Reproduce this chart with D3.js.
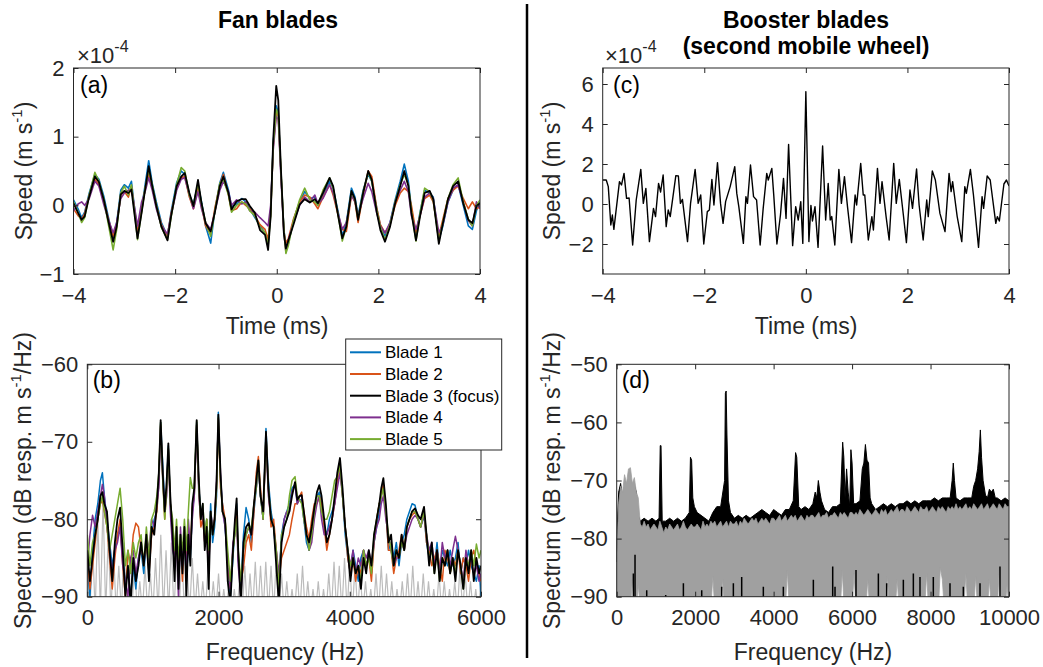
<!DOCTYPE html>
<html>

<head>
  <meta charset="utf-8" />
  <title>Fan and booster blades</title>
  <style>
    body {
      margin: 0;
      background: #fff;
    }

    svg {
      font-family: "Liberation Sans", Arial, Helvetica, sans-serif;
    }

    .axis .tick text {
      font-family: "Liberation Sans", Arial, Helvetica, sans-serif;
      font-size: 22px;
      fill: #262626;
    }

    .axis .tick line {
      stroke: #262626;
    }
  </style>
  <script src="https://cdnjs.cloudflare.com/ajax/libs/d3/7.8.5/d3.min.js"></script>
</head>

<body>
  <script>
    // ---- (a) fan blades, speed vs time (units of 1e-4 m/s) ----
    var fanTime = [-4.00, -3.91, -3.84, -3.78, -3.69, -3.58, -3.50, -3.40, -3.32, -3.22,
      -3.15, -3.07, -3.00, -2.92, -2.86, -2.74, -2.66, -2.59, -2.52, -2.45,
      -2.37, -2.27, -2.15, -2.08, -1.97, -1.88, -1.81, -1.72, -1.64, -1.55,
      -1.48, -1.40, -1.30, -1.22, -1.12, -1.05, -0.95, -0.89, -0.79, -0.69,
      -0.61, -0.53, -0.43, -0.33, -0.23, -0.17, -0.12, -0.07, -0.01, 0.03,
      0.08, 0.14, 0.18, 0.23, 0.33, 0.45, 0.55, 0.65, 0.75, 0.81,
      0.91, 1.04, 1.11, 1.21, 1.29, 1.37, 1.47, 1.54, 1.60, 1.70,
      1.80, 1.87, 1.97, 2.04, 2.13, 2.23, 2.33, 2.43, 2.51, 2.59,
      2.65, 2.74, 2.82, 2.91, 3.01, 3.08, 3.19, 3.27, 3.37, 3.47,
      3.57, 3.67, 3.77, 3.85, 3.93, 4.00];
    var fanBlade1 = [0.08, -0.05, -0.18, -0.10, 0.18, 0.45, 0.38, 0.12, -0.15, -0.48,
      -0.25, 0.22, 0.30, 0.25, 0.35, -0.42, -0.05, 0.30, 0.65, 0.32,
      0.05, -0.25, -0.45, -0.10, 0.33, 0.50, 0.45, 0.15, 0.02, 0.30,
      0.05, -0.30, -0.55, -0.08, 0.33, 0.48, 0.22, -0.02, 0.02, 0.10,
      0.05, -0.05, -0.18, -0.30, -0.40, -0.55, -0.10, 0.90, 1.45, 1.35,
      0.50, -0.35, -0.60, -0.55, -0.22, 0.05, 0.20, 0.10, 0.12, 0.00,
      0.15, 0.35, 0.25, -0.10, -0.45, -0.25, 0.25, 0.12, -0.15, 0.22,
      0.45, 0.35, -0.05, -0.30, -0.45, -0.25, 0.08, 0.35, 0.60, 0.35,
      -0.05, -0.45, -0.10, 0.22, 0.18, 0.12, -0.50, -0.30, 0.05, 0.22,
      0.30, 0.00, -0.30, -0.35, -0.08, 0.05];
    var fanBlade2 = [-0.05, -0.15, -0.20, -0.12, 0.15, 0.38, 0.30, 0.05, -0.18, -0.45,
      -0.28, 0.15, 0.20, 0.12, 0.28, -0.40, -0.08, 0.25, 0.45, 0.25,
      0.00, -0.28, -0.45, -0.12, 0.25, 0.40, 0.42, 0.12, -0.05, 0.25,
      -0.02, -0.30, -0.42, -0.05, 0.30, 0.45, 0.15, -0.08, -0.05, 0.05,
      0.00, -0.05, -0.15, -0.28, -0.35, -0.50, -0.12, 0.85, 1.35, 1.30,
      0.50, -0.38, -0.55, -0.48, -0.20, 0.05, 0.15, 0.12, 0.02, -0.05,
      0.12, 0.30, 0.15, -0.15, -0.35, -0.38, 0.15, 0.05, -0.25, 0.15,
      0.50, 0.42, -0.05, -0.28, -0.40, -0.28, 0.00, 0.18, 0.25, 0.20,
      0.00, -0.40, -0.15, 0.10, 0.15, 0.05, -0.45, -0.20, 0.10, 0.22,
      0.28, 0.10, -0.05, 0.05, -0.05, -0.02];
    var fanBlade3 = [0.03, -0.11, -0.21, -0.16, 0.13, 0.42, 0.34, 0.07, -0.21, -0.53,
      -0.31, 0.16, 0.21, 0.18, 0.23, -0.48, -0.11, 0.23, 0.57, 0.28,
      -0.01, -0.31, -0.51, -0.16, 0.28, 0.42, 0.47, 0.18, -0.01, 0.37,
      0.03, -0.26, -0.38, -0.11, 0.28, 0.42, 0.18, -0.06, 0.06, 0.09,
      0.09, -0.01, -0.11, -0.36, -0.43, -0.65, -0.16, 0.95, 1.74, 1.53,
      0.57, -0.41, -0.63, -0.51, -0.28, 0.01, 0.09, 0.04, 0.09, 0.03,
      0.18, 0.40, 0.28, -0.16, -0.48, -0.31, 0.21, 0.09, -0.21, 0.18,
      0.50, 0.37, -0.11, -0.36, -0.53, -0.31, 0.03, 0.28, 0.50, 0.28,
      -0.11, -0.51, -0.16, 0.18, 0.21, 0.09, -0.56, -0.26, 0.09, 0.28,
      0.35, 0.03, -0.21, -0.26, -0.01, 0.03];
    var fanBlade4 = [-0.08, 0.02, 0.05, 0.00, 0.10, 0.35, 0.28, 0.00, -0.20, -0.40,
      -0.25, 0.10, 0.18, 0.22, 0.25, -0.30, 0.05, 0.20, 0.40, 0.22,
      -0.05, -0.30, -0.42, -0.15, 0.22, 0.38, 0.40, 0.15, -0.05, 0.20,
      -0.05, -0.25, -0.35, -0.10, 0.22, 0.35, 0.20, 0.00, 0.08, 0.02,
      0.05, -0.08, -0.10, -0.18, -0.25, -0.30, 0.00, 0.80, 1.30, 1.25,
      0.45, -0.40, -0.68, -0.50, -0.25, 0.00, 0.12, 0.05, 0.15, 0.02,
      0.10, 0.30, 0.18, -0.12, -0.35, -0.25, 0.15, 0.05, -0.15, 0.10,
      0.32, 0.20, -0.12, -0.30, -0.40, -0.25, 0.05, 0.22, 0.35, 0.20,
      -0.15, -0.35, -0.15, 0.12, 0.18, 0.10, -0.40, -0.28, 0.05, 0.25,
      0.30, 0.05, -0.22, -0.30, 0.05, -0.05];
    var fanBlade5 = [0.05, -0.10, -0.25, -0.18, 0.15, 0.48, 0.35, 0.08, -0.25, -0.65,
      -0.35, 0.18, 0.28, 0.15, 0.30, -0.50, -0.10, 0.25, 0.52, 0.30,
      0.00, -0.32, -0.50, -0.18, 0.30, 0.55, 0.50, 0.15, 0.00, 0.32,
      0.02, -0.25, -0.45, -0.10, 0.32, 0.38, 0.15, -0.10, 0.00, 0.05,
      0.02, -0.08, -0.15, -0.32, -0.40, -0.58, -0.15, 0.88, 1.40, 1.32,
      0.55, -0.35, -0.70, -0.58, -0.22, 0.08, 0.25, 0.08, 0.05, 0.00,
      0.22, 0.40, 0.25, -0.15, -0.52, -0.30, 0.20, 0.08, -0.20, 0.20,
      0.48, 0.35, -0.08, -0.32, -0.50, -0.28, 0.05, 0.30, 0.45, 0.30,
      -0.08, -0.52, -0.12, 0.25, 0.20, 0.08, -0.52, -0.25, 0.10, 0.30,
      0.40, 0.05, -0.20, -0.30, 0.00, 0.08];

    // ---- (b) fan blades spectrum (dB) ----
    var fanFreq = [0, 40, 80, 120, 160, 200, 230, 260, 300, 340,
      380, 420, 460, 500, 540, 580, 620, 660, 700, 740,
      780, 820, 860, 900, 940, 980, 1020, 1060, 1090, 1118,
      1150, 1180, 1210, 1235, 1265, 1300, 1330, 1360, 1390, 1420,
      1450, 1480, 1510, 1540, 1570, 1600, 1630, 1667, 1700, 1730,
      1760, 1790, 1820, 1850, 1880, 1910, 1940, 1970, 1997, 2030,
      2060, 2100, 2140, 2180, 2220, 2250, 2276, 2300, 2340, 2380,
      2420, 2460, 2500, 2540, 2575, 2607, 2640, 2680, 2723, 2760,
      2800, 2840, 2880, 2920, 2960, 3000, 3040, 3080, 3120, 3166,
      3200, 3235, 3267, 3300, 3340, 3380, 3420, 3460, 3500, 3536,
      3570, 3610, 3650, 3690, 3730, 3770, 3810, 3851, 3890, 3930,
      3970, 4010, 4050, 4090, 4130, 4170, 4210, 4250, 4290, 4330,
      4370, 4410, 4450, 4480, 4512, 4550, 4590, 4630, 4670, 4710,
      4750, 4790, 4830, 4870, 4910, 4950, 4995, 5040, 5080, 5132,
      5170, 5210, 5250, 5290, 5330, 5370, 5410, 5450, 5490, 5530,
      5570, 5610, 5650, 5690, 5730, 5770, 5810, 5850, 5890, 5930,
      5970, 6000];
    var specBlade1 = [-86, -90, -84, -80, -78, -75, -74, -77, -80, -83,
      -86, -84, -82, -81, -85, -88, -87, -90, -86, -89,
      -85, -84, -87, -83, -86, -82, -80, -79, -75, -67.5,
      -73, -78, -76, -70.5, -78, -83, -86, -82, -88, -84,
      -85, -82, -88, -83, -85, -79, -77, -67.5, -76, -79,
      -79, -82, -80, -85, -78, -83, -81, -77, -66.2, -75,
      -78, -81, -86, -90, -85, -81, -78, -85, -89, -82,
      -78.5, -80, -83, -79, -76, -73, -77, -80, -68.3, -75,
      -79, -81, -85, -88, -82, -80, -79, -78, -76, -75.5,
      -78, -77.5, -77.5, -80, -83, -84, -82, -79, -77, -76.5,
      -78, -81, -82, -80, -79, -78, -75, -73, -77, -82,
      -85, -87, -84, -86, -88, -85, -84, -86, -85, -87,
      -83, -81, -79, -77, -75.5, -79, -84, -83, -85, -83,
      -86, -83, -82, -80, -79, -78, -78.2, -80, -81, -79.5,
      -83, -85, -84, -86, -83, -87, -84, -85, -86, -84,
      -86, -85, -83, -87, -85, -86, -84, -86, -87, -88,
      -86, -90];
    var specBlade2 = [-85, -89, -86, -83, -80, -78, -77.5, -79, -81, -85,
      -89, -85, -82, -80, -86, -90, -84, -86, -82, -80.5,
      -81, -84, -85, -83, -87, -82, -81, -79, -75, -67.8,
      -74.5, -80, -76, -71, -78, -81, -86, -83, -87, -83,
      -88, -82, -86, -81, -84, -78.5, -77, -67.8, -76, -81,
      -80, -83, -80, -86, -80, -81, -80, -76, -67, -76,
      -78, -80, -86, -89, -84, -81, -79, -85, -88, -86.3,
      -83, -82, -84, -79, -74, -71.9, -76, -80, -69, -76,
      -81, -80, -84, -88, -85, -84, -83, -82, -80, -78,
      -78, -77, -76.5, -79, -81, -82.5, -80, -78, -78, -77,
      -78, -81, -84, -82, -80, -78, -75, -73, -77, -81,
      -85, -87, -85, -88, -86, -87, -84, -86, -85, -88,
      -83, -80, -78, -77, -75.5, -79, -84, -84, -87, -85,
      -84, -82, -84, -81, -80, -79.5, -79, -80, -81, -79,
      -83, -84, -86, -85, -84, -86, -88, -84, -85, -87,
      -85, -86, -84, -87, -85, -86, -88, -85, -84, -86,
      -87, -88];
    var specBlade3 = [-84, -88, -85, -82, -80, -77, -76.5, -78, -79, -84,
      -88, -83, -80, -78.5, -84, -90, -86, -91, -85, -88,
      -86, -83, -86, -82, -88, -81, -82, -78, -74, -67.2,
      -74, -79, -75, -70.2, -77, -82, -88, -81, -89, -82,
      -87, -81, -90, -82, -86, -78, -76, -67.2, -75, -80,
      -78, -84, -81, -89, -79, -82, -80, -75, -66.5, -74,
      -79, -80, -88, -91, -84, -80, -77.3, -84, -91, -83,
      -81, -80.5, -82, -78, -75, -72.4, -77, -79, -68.7, -76,
      -80, -81, -86, -91, -83, -81, -80, -79, -77, -75.2,
      -77.5, -77, -76.9, -79, -82, -83, -81, -78.5, -76.5, -75.6,
      -77, -80, -83, -82, -80, -77, -74, -72.1, -76, -81,
      -84, -88, -85, -87, -86, -89, -85, -87, -84, -86,
      -82, -80, -78, -76, -74.7, -78, -83, -82, -86, -84,
      -85, -82, -84, -81, -80, -79, -78.6, -79.5, -80, -78.4,
      -82, -86, -83, -87, -84, -88, -85, -86, -84, -87,
      -85, -88, -84, -86, -89, -85, -87, -84, -88, -85,
      -87, -86];
    var specBlade4 = [-86, -82, -79.5, -81, -79, -77, -75.5, -77, -81, -84,
      -87, -84, -83, -81, -86, -88, -90, -85, -84, -87,
      -85, -83, -86, -82, -84, -80, -81, -78, -76, -68,
      -75, -79, -77, -71, -79, -84, -85, -82, -90, -81,
      -86, -82, -87, -80, -84, -80, -77, -67.8, -77, -80,
      -79, -83, -82, -87, -79, -81, -80, -75, -67, -74,
      -79, -81, -85, -89, -83, -82, -80, -86, -90, -84,
      -82, -81, -82, -78, -76, -73, -77, -80, -69.5, -77,
      -80, -81, -84, -87, -83, -80, -79, -79, -76.5, -75.5,
      -78, -77, -77, -80, -82, -84, -83, -80, -78, -77,
      -80, -82, -82, -81, -80, -78, -76, -74, -77, -81,
      -84, -86, -84, -87, -85, -86, -84, -85, -84, -86,
      -83, -81, -80, -78, -77, -80, -82, -84, -86, -85,
      -85, -83, -84, -82, -81, -80, -79.5, -80, -81, -79.5,
      -82, -84, -83, -86, -84, -87, -83, -85, -84, -86,
      -84, -82.2, -84, -86, -88, -84, -86, -85, -87, -86,
      -88, -87];
    var specBlade5 = [-82, -86, -83, -82, -80, -78, -77, -79, -81, -84,
      -82, -80, -78, -76, -80, -86, -84, -87, -83, -85,
      -83, -82, -86, -81, -85, -80, -79, -77, -74, -67.5,
      -75, -80, -76, -70.8, -78, -80, -84, -80, -85, -82,
      -84, -80, -84, -79, -74.6, -76, -76, -67.3, -76, -80,
      -78, -82, -80, -84, -79, -82, -80, -76, -66.8, -75,
      -79, -80, -84, -88, -84, -82, -80, -84, -88, -84,
      -82, -81, -81, -78, -76, -72.5, -77, -80, -69, -76,
      -80, -81, -84, -89, -82, -81, -80, -77, -75, -74.5,
      -77, -77.5, -78, -80, -82, -84, -82, -79, -77, -77,
      -79, -80, -80, -79, -77, -75, -74.5, -73, -77, -81,
      -84, -86, -85, -87, -86, -88, -84, -86, -85, -87,
      -82, -80, -78, -77, -76, -79, -82, -84, -86, -84,
      -85, -83, -84, -81, -80, -79, -79, -80, -81, -79,
      -82, -85, -84, -87, -84, -88, -85, -86, -84, -87,
      -85, -87, -84, -86, -89, -85, -86, -84, -86, -83.2,
      -85, -84];
    // grey reference spectrum in (b): local maxima every 80 Hz, dropping to the floor between them
    var fanGrayStep = 80;
    var fanGrayPeaks = [-86, -83, -80, -77.5, -82, -84, -86, -83, -87, -85,
      -88, -86, -87, -85, -82, -84, -83, -85, -84, -86,
      -85, -87, -88, -86, -88, -87, -89, -88, -89, -88,
      -86, -87, -85.5, -86, -85.5, -86, -85, -87, -88, -89,
      -87, -86, -88, -89, -88, -89, -87, -85.5, -86, -85,
      -85.5, -86, -87, -88, -89, -87, -86, -87, -88, -89,
      -88, -87, -86, -88, -87, -88, -89, -87, -88, -89,
      -88, -86, -87, -88, -89, -88];

    // ---- (c) booster blades, speed vs time (units of 1e-4 m/s) ----
    var boosterTime = [-4.00, -3.93, -3.89, -3.84, -3.81, -3.78, -3.67, -3.63, -3.58, -3.53,
      -3.48, -3.41, -3.34, -3.25, -3.20, -3.15, -3.08, -3.00, -2.96, -2.90,
      -2.86, -2.81, -2.75, -2.71, -2.67, -2.56, -2.51, -2.47, -2.43, -2.33,
      -2.27, -2.18, -2.12, -2.07, -2.01, -1.94, -1.90, -1.85, -1.81, -1.74,
      -1.68, -1.63, -1.58, -1.49, -1.40, -1.36, -1.32, -1.23, -1.18, -1.15,
      -1.09, -1.03, -0.97, -0.90, -0.84, -0.77, -0.74, -0.67, -0.63, -0.57,
      -0.50, -0.44, -0.39, -0.34, -0.26, -0.20, -0.15, -0.10, -0.06, 0.00,
      0.06, 0.10, 0.13, 0.18, 0.24, 0.33, 0.39, 0.44, 0.48, 0.51,
      0.57, 0.65, 0.70, 0.76, 0.82, 0.90, 0.97, 1.00, 1.08, 1.13,
      1.16, 1.23, 1.30, 1.33, 1.41, 1.46, 1.50, 1.58, 1.64, 1.73,
      1.78, 1.84, 1.92, 1.98, 2.05, 2.10, 2.18, 2.23, 2.31, 2.38,
      2.41, 2.49, 2.55, 2.64, 2.74, 2.82, 2.86, 2.89, 2.98, 3.07,
      3.13, 3.16, 3.24, 3.30, 3.40, 3.47, 3.50, 3.57, 3.63, 3.74,
      3.77, 3.81, 3.90, 3.95, 4.00];
    var boosterSpeed = [1.20, 1.20, 0.87, -1.05, -0.55, -1.27, 1.12, 0.95, 1.53, 0.28,
      0.30, -2.05, 0.20, 1.73, 0.03, 0.78, -1.88, -0.22, -0.63, 1.03,
      0.60, 1.45, -1.13, -0.30, -0.63, 1.42, 1.40, 0.03, 0.23, -1.88,
      0.03, 1.73, 0.03, 0.45, -2.00, -0.38, -0.30, 1.23, -0.05, 2.07,
      0.03, -0.97, 0.12, 0.87, 1.87, 0.53, -0.13, -1.97, 0.37, 0.03,
      1.95, 0.37, 0.20, -2.05, -0.22, 1.53, 1.20, 1.78, 0.37, -2.00,
      -0.55, 1.28, -0.72, 2.98, -2.08, -0.13, -0.80, 0.12, -1.97, 5.62,
      -1.88, -0.07, -0.85, -0.13, -2.17, 2.90, -0.80, 1.03, -0.80, -0.63,
      -2.05, 1.73, 0.03, 1.37, -0.13, -1.93, 0.45, -0.05, 2.03, 0.45,
      0.45, -1.80, -0.63, -1.30, 1.78, 0.03, 1.12, -0.63, -1.80, 2.03,
      0.03, 1.23, -0.55, -1.93, 0.70, -0.22, 1.75, -0.05, -1.80, 0.20,
      -0.63, 1.65, 1.20, -0.47, -1.38, 1.53, 0.62, 1.12, -0.63, -1.88,
      0.87, 0.53, 1.73, 0.45, -2.17, 0.37, -0.22, 1.40, 1.20, -0.97,
      -0.63, -0.85, 1.00, 1.20, 0.90];

    // ---- (d) booster blades spectrum (dB) ----
    var boosterFreq = [0, 50, 100, 150, 200, 250, 300, 350, 400, 450,
      500, 550, 600, 700, 800, 900, 1000, 1080, 1110, 1130,
      1160, 1250, 1350, 1450, 1550, 1650, 1750, 1850, 1880, 1910,
      1940, 1980, 2050, 2150, 2250, 2350, 2450, 2550, 2650, 2750,
      2770, 2790, 2810, 2850, 2900, 3000, 3100, 3200, 3300, 3400,
      3500, 3600, 3700, 3800, 3900, 4000, 4100, 4200, 4300, 4400,
      4500, 4560, 4590, 4640, 4700, 4800, 4900, 5000, 5060, 5100,
      5140, 5180, 5220, 5300, 5400, 5500, 5600, 5700, 5760, 5790,
      5820, 5860, 5900, 5940, 5970, 6000, 6040, 6100, 6200, 6260,
      6300, 6340, 6380, 6420, 6460, 6500, 6600, 6700, 6800, 6900,
      7000, 7100, 7200, 7300, 7400, 7500, 7600, 7700, 7800, 7900,
      8000, 8100, 8200, 8300, 8400, 8500, 8550, 8580, 8610, 8650,
      8750, 8850, 8950, 9050, 9100, 9150, 9200, 9240, 9270, 9300,
      9340, 9400, 9450, 9500, 9550, 9600, 9650, 9700, 9800, 9900,
      10000];
    var boosterSpec = [-80.5, -72, -70.5, -73, -71, -71.5, -72.5, -73, -71, -70.8,
      -72, -76, -77, -76.5, -77, -76.5, -77, -76.5, -64, -64,
      -77, -77, -76.5, -77, -76.5, -77, -76.5, -75.5, -66, -66.5,
      -73, -74.5, -75.5, -76, -76.5, -77, -75.5, -74.5, -74.5, -70,
      -55, -54.6, -62, -73.5, -75.5, -76.5, -76, -76.5, -76, -76.5,
      -76, -75.5, -75, -75.5, -76, -75, -75.5, -76, -75, -75,
      -73.5, -65.2, -66, -74.5, -75, -74.5, -75, -74, -72, -73,
      -70, -72, -73.5, -75, -75.5, -74.5, -74.5, -74, -63.4, -66,
      -73, -68, -72, -74.5, -64.7, -67, -74, -74, -73.5, -68,
      -67, -63.8, -66.5, -67, -73, -74, -75, -74.5, -74, -74.5,
      -74, -74.5, -74, -74, -73.5, -74, -73.5, -74, -73.5, -73.5,
      -73.5, -73, -73.5, -73, -73, -73, -70, -67, -70, -73,
      -73.5, -73, -73, -73, -71, -70, -68, -65, -61.3, -66,
      -70, -72.5, -73, -71.5, -72, -71.5, -73, -73, -73.5, -73,
      -73.5];
    // black dips reaching the bottom of (d)
    var boosterDipFreq = [425, 467, 765, 1249, 1700, 2167, 2676, 2974, 3186, 3738,
      4248, 5013, 5506, 5565, 6100, 6670, 6882, 7307, 7562, 7731,
      8071, 8496, 8836, 9261, 9770];
    var boosterDipTop = [-86, -82.8, -88.9, -89.7, -87.7, -88.9, -88.3, -87.7, -86.6, -88.3,
      -88.3, -87.1, -84.8, -88.3, -85.4, -86, -87.7, -87.1, -86, -86.6,
      -86.6, -87.7, -88.3, -87.7, -84.8];
    // grey reference spectrum in (d): upper envelope every 50 Hz
    var boosterGrayStep = 50;
    var boosterGrayTop = [-84, -74, -71, -72, -69, -70.5, -68, -67.8, -70.5, -69.5,
      -72, -73, -77.5, -78, -77, -78, -77.5, -78.5, -78, -77.5,
      -78, -78.5, -77, -78, -79, -78, -78.5, -77.5, -78, -78.5,
      -78, -77.5, -78.5, -78, -77, -78, -78.5, -78, -77.5, -78,
      -78, -77.5, -78, -78.5, -77, -78, -77.5, -78, -77, -77.5,
      -77, -78, -77.5, -77, -78, -77.5, -77, -78, -77, -77.5,
      -77.5, -77, -78, -77, -77.5, -76.5, -77, -77.5, -77, -76.5,
      -77, -76.5, -77.5, -77, -76.5, -77, -76.5, -77, -77.5, -76.5,
      -76.5, -77, -76.5, -76, -77, -76.5, -76, -77, -76.5, -76,
      -76.5, -76, -77, -76.5, -76, -76.5, -77, -76, -76.5, -76,
      -76, -76.5, -76, -75.5, -76.5, -76, -76, -75.5, -76.5, -76,
      -76, -75.5, -76, -76.5, -75.5, -76, -75.5, -76, -76.5, -75.5,
      -75.5, -76, -75.5, -76, -75, -75.5, -76, -75.5, -75, -75.5,
      -76, -75.5, -75, -75.5, -76, -75, -75.5, -75, -76, -75.5,
      -75, -75.5, -75, -74.5, -75.5, -75, -75, -75.5, -74.5, -75,
      -75.5, -75, -74.5, -75, -75.5, -74.5, -75, -75, -74.5, -75.5,
      -75, -74.5, -75, -75.5, -74.5, -75, -74.5, -75, -75.5, -74.5,
      -75, -74.5, -75, -74, -75, -74.5, -75, -74.5, -74, -75,
      -74.5, -75, -74, -74.5, -75, -74.5, -74, -75, -74.5, -74,
      -75, -74.5, -74, -74.5, -75, -74, -74.5, -75, -74, -74.5,
      -74.5];
    // places where the grey trace does not reach the bottom (white gaps)
    var boosterGapFreq = [400, 550, 2450, 2700, 4350, 5750, 6050, 6400, 6900, 7150,
      7900, 8250, 8300, 8900, 9150, 9500, 9750, 9950];
    var boosterGapDb = [-87, -88, -86.5, -87, -85.5, -85.5, -86, -87, -86.5, -87,
      -86, -85, -87, -86, -86.5, -87, -85.5, -88];

    var bladeNames = ['Blade 1', 'Blade 2', 'Blade 3 (focus)', 'Blade 4', 'Blade 5'];
    var bladeColors = ['#0072BD', '#D95319', '#000000', '#7E2F8E', '#77AC30'];
    var floorDb = -92;

    var svg = d3.select('body').append('svg')
      .attr('width', 1043)
      .attr('height', 667);

    function setupPanel(id, box, xDomain, yDomain) {
      var x = d3.scaleLinear().domain(xDomain).range([box.x, box.x + box.w]);
      var y = d3.scaleLinear().domain(yDomain).range([box.y + box.h, box.y]);
      svg.append('clipPath').attr('id', 'clip-' + id)
        .append('rect')
        .attr('x', box.x).attr('y', box.y)
        .attr('width', box.w).attr('height', box.h);
      var plot = svg.append('g').attr('clip-path', 'url(#clip-' + id + ')');
      return { x: x, y: y, plot: plot, box: box };
    }

    function finishPanel(p, xTicks, yTicks) {
      var b = p.box;
      // negative tick labels with a real minus sign, like the original
      var fmt = d => (d < 0 ? '\u2212' + String(-d) : String(d));
      svg.append('g').attr('class', 'axis')
        .attr('transform', 'translate(0,' + (b.y + b.h) + ')')
        .call(d3.axisBottom(p.x).tickValues(xTicks).tickSizeInner(-5).tickSizeOuter(0).tickPadding(13).tickFormat(fmt));
      svg.append('g').attr('class', 'axis')
        .attr('transform', 'translate(0,' + b.y + ')')
        .call(d3.axisTop(p.x).tickValues(xTicks).tickSizeInner(-5).tickSizeOuter(0).tickFormat(''));
      svg.append('g').attr('class', 'axis')
        .attr('transform', 'translate(' + b.x + ',0)')
        .call(d3.axisLeft(p.y).tickValues(yTicks).tickSizeInner(-5).tickSizeOuter(0).tickPadding(9).tickFormat(fmt));
      svg.append('g').attr('class', 'axis')
        .attr('transform', 'translate(' + (b.x + b.w) + ',0)')
        .call(d3.axisRight(p.y).tickValues(yTicks).tickSizeInner(-5).tickSizeOuter(0).tickFormat(''));
      svg.selectAll('.axis .domain').remove();
      svg.append('rect')
        .attr('x', b.x).attr('y', b.y)
        .attr('width', b.w).attr('height', b.h)
        .attr('fill', 'none')
        .attr('stroke', '#262626')
        .attr('stroke-width', 1);
    }

    function drawLine(p, xs, ys, color, width) {
      var line = d3.line().x(i => p.x(xs[i])).y(i => p.y(ys[i]));
      p.plot.append('path')
        .attr('d', line(d3.range(xs.length)))
        .attr('fill', 'none')
        .attr('stroke', color)
        .attr('stroke-width', width)
        .attr('stroke-linejoin', 'round');
    }

    function text(x, y, str, size, opts) {
      opts = opts || {};
      return svg.append('text')
        .attr('x', x).attr('y', y)
        .attr('font-size', size)
        .attr('font-weight', opts.bold ? 'bold' : null)
        .attr('text-anchor', opts.anchor || 'start')
        .attr('fill', opts.color || '#000')
        .text(str);
    }

    // rotated label with a "-1" superscript
    function yLabel(cx, cy, before, after) {
      var t = svg.append('text')
        .attr('transform', 'translate(' + cx + ',' + cy + ') rotate(-90)')
        .attr('text-anchor', 'middle')
        .attr('font-size', 23)
        .attr('fill', '#262626');
      t.append('tspan').text(before);
      t.append('tspan').attr('font-size', 15).attr('dy', -10).text('-1');
      t.append('tspan').attr('dy', 10).text(after);
    }

    function exponent(x, y) {
      var t = svg.append('text').attr('x', x).attr('y', y).attr('font-size', 22).attr('fill', '#262626');
      t.append('tspan').text('\u00d710');
      t.append('tspan').attr('font-size', 16).attr('dy', -11).text('-4');
    }

    // ---- panel (a) ----
    var pa = setupPanel('a', { x: 73.5, y: 68, w: 406.5, h: 206 }, [-4, 4], [-1, 2]);
    [fanBlade1, fanBlade2, fanBlade4, fanBlade5].forEach(function (vals, k) {
      drawLine(pa, fanTime, vals, bladeColors[[0, 1, 3, 4][k]], 1.6);
    });
    drawLine(pa, fanTime, fanBlade3, '#000', 1.8);
    finishPanel(pa, [-4, -2, 0, 2, 4], [-1, 0, 1, 2]);

    // ---- panel (b) ----
    var pb = setupPanel('b', { x: 87.3, y: 364.3, w: 393.7, h: 232.4 }, [0, 6000], [-90, -60]);
    var grayB = [];
    fanGrayPeaks.forEach(function (v, i) {
      grayB.push([i * fanGrayStep, v]);
      grayB.push([i * fanGrayStep + fanGrayStep / 2, floorDb]);
    });
    pb.plot.append('path')
      .attr('d', d3.line().x(d => pb.x(d[0])).y(d => pb.y(d[1]))(grayB))
      .attr('fill', 'none').attr('stroke', '#bcbcbc').attr('stroke-width', 1.2);
    [specBlade1, specBlade2, specBlade4, specBlade5].forEach(function (vals, k) {
      drawLine(pb, fanFreq, vals, bladeColors[[0, 1, 3, 4][k]], 1.5);
    });
    drawLine(pb, fanFreq, specBlade3, '#000', 1.8);
    finishPanel(pb, [0, 2000, 4000, 6000], [-90, -80, -70, -60]);

    // ---- panel (c) ----
    var pc = setupPanel('c', { x: 602.7, y: 68, w: 406.3, h: 206 }, [-4, 4], [-3.5, 6.8]);
    drawLine(pc, boosterTime, boosterSpeed, '#000', 1.4);
    finishPanel(pc, [-4, -2, 0, 2, 4], [-2, 0, 2, 4, 6]);

    // ---- panel (d) ----
    var pd = setupPanel('d', { x: 616.7, y: 364.3, w: 392.3, h: 232.4 }, [0, 10000], [-90, -50]);
    pd.plot.append('path')
      .attr('d', d3.area()
        .x(i => pd.x(boosterFreq[i]))
        .y0(pd.y(-84))
        .y1(i => pd.y(boosterSpec[i]))(d3.range(boosterFreq.length)))
      .attr('fill', '#000').attr('stroke', '#000').attr('stroke-width', 1);
    var gapLookup = new Map(boosterGapFreq.map((f, i) => [f, boosterGapDb[i]]));
    var grayD = boosterGrayTop.map(function (v, i) {
      var f = i * boosterGrayStep;
      return { f: f, hi: v, lo: gapLookup.has(f) ? gapLookup.get(f) : floorDb };
    });
    pd.plot.append('path')
      .attr('d', d3.area().x(d => pd.x(d.f)).y0(d => pd.y(d.lo)).y1(d => pd.y(d.hi))(grayD))
      .attr('fill', '#a0a0a0').attr('stroke', '#a0a0a0').attr('stroke-width', 0.8);
    pd.plot.selectAll('line.dip')
      .data(boosterDipFreq)
      .enter()
      .append('line')
      .attr('class', 'dip')
      .attr('x1', d => pd.x(d)).attr('x2', d => pd.x(d))
      .attr('y1', pd.y(-90)).attr('y2', (d, i) => pd.y(boosterDipTop[i]))
      .attr('stroke', '#000').attr('stroke-width', 1.5);
    finishPanel(pd, [0, 2000, 4000, 6000, 8000, 10000], [-90, -80, -70, -60, -50]);

    // ---- legend in (b) ----
    var leg = svg.append('g');
    leg.append('rect')
      .attr('x', 345.7).attr('y', 339).attr('width', 156).attr('height', 111)
      .attr('fill', '#fff').attr('stroke', '#262626').attr('stroke-width', 1);
    bladeNames.forEach(function (name, i) {
      var yy = 352.3 + i * 21.7;
      leg.append('line')
        .attr('x1', 350).attr('x2', 381).attr('y1', yy).attr('y2', yy)
        .attr('stroke', bladeColors[i]).attr('stroke-width', 2);
      leg.append('text')
        .attr('x', 385).attr('y', yy)
        .attr('dy', '0.35em')
        .attr('font-size', 17)
        .attr('fill', '#000')
        .text(name);
    });

    // ---- texts ----
    text(278, 28, 'Fan blades', 23, { bold: true, anchor: 'middle' });
    text(806, 28, 'Booster blades', 23, { bold: true, anchor: 'middle' });
    text(806, 54, '(second mobile wheel)', 23, { bold: true, anchor: 'middle' });

    exponent(77, 63);
    exponent(605, 63);

    text(80, 93, '(a)', 23);
    text(613, 93, '(c)', 23);
    text(92.7, 388, '(b)', 23);
    text(621.7, 388, '(d)', 23);

    text(277, 334, 'Time (ms)', 23, { anchor: 'middle', color: '#262626' });
    text(806, 334, 'Time (ms)', 23, { anchor: 'middle', color: '#262626' });
    text(285, 660, 'Frequency (Hz)', 23, { anchor: 'middle', color: '#262626' });
    text(813, 660, 'Frequency (Hz)', 23, { anchor: 'middle', color: '#262626' });

    yLabel(32, 171, 'Speed (m s', ')');
    yLabel(560, 171, 'Speed (m s', ')');
    yLabel(31, 480.5, 'Spectrum (dB resp. m s', '/Hz)');
    yLabel(560, 480.5, 'Spectrum (dB resp. m s', '/Hz)');

    // divider between the two columns
    svg.append('line')
      .attr('x1', 527).attr('x2', 527).attr('y1', 4).attr('y2', 658)
      .attr('stroke', '#000').attr('stroke-width', 2.5);
  </script>
</body>

</html>
